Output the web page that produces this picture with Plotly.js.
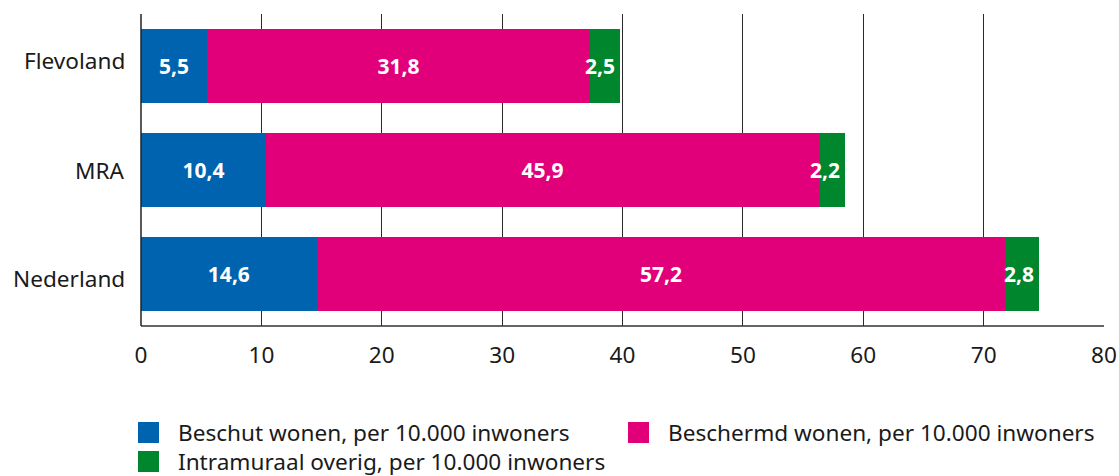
<!DOCTYPE html>
<html>
<head>
<meta charset="utf-8">
<script src="https://cdn.plot.ly/plotly-3.0.1.min.js"></script>
<style>html,body{margin:0;padding:0;background:#fff;}#chart{width:1119px;height:476px;}</style>
</head>
<body>
<div id="chart"></div>
<script>
var categories = ["Flevoland", "MRA", "Nederland"];
var beschut = [5.5, 10.4, 14.6];
var beschermd = [31.8, 45.9, 57.2];
var intramuraal = [2.5, 2.2, 2.8];
var seriesNames = ["Beschut wonen, per 10.000 inwoners", "Beschermd wonen, per 10.000 inwoners", "Intramuraal overig, per 10.000 inwoners"];
var seriesColors = ["#0063AF", "#E2007A", "#00862D"];
var xTicks = [0, 10, 20, 30, 40, 50, 60, 70, 80];

var W = 1119, H = 476;
var M = {l: 141, r: 15, t: 14, b: 150};
var PW = W - M.l - M.r, PH = H - M.t - M.b;
function px2x(px) { return (px - M.l) / PW; }
function px2y(py) { return (H - M.b - py) / PH; }

var FONT = "Noto Sans, Open Sans, sans-serif";
var TXT = 22.6;
var labelFont = {family: FONT, size: 21, color: "#ffffff", weight: "bold"};

function barTrace(vals, i, withText) {
  var t = {
    type: "bar", orientation: "h", y: categories, x: vals, name: seriesNames[i],
    marker: {color: seriesColors[i], line: {width: 0}},
    hoverinfo: "x+name", showlegend: false
  };
  if (withText) {
    t.texttemplate = "<b>%{x:.1f}</b>";
    t.textposition = "inside";
    t.insidetextanchor = "middle";
    t.textangle = 0;
    t.constraintext = "none";
    t.insidetextfont = labelFont;
  } else {
    t.textposition = "none";
  }
  return t;
}

var data = [barTrace(beschut, 0, true), barTrace(beschermd, 1, true), barTrace(intramuraal, 2, false)];

var annotations = [];
for (var k = 0; k < categories.length; k++) {
  annotations.push({
    x: beschut[k] + beschermd[k] + intramuraal[k], y: categories[k], xref: "x", yref: "y",
    text: "<b>" + intramuraal[k].toFixed(1).replace(".", ",") + "</b>",
    showarrow: false, xanchor: "right", yanchor: "middle", xshift: -3,
    font: labelFont
  });
}

// category labels (the reference sets the first one slightly higher)
var catShift = [6, 0, -4];
for (var c = 0; c < categories.length; c++) {
  annotations.push({
    xref: "paper", yref: "y", x: px2x(127), y: categories[c],
    xanchor: "right", yanchor: "middle", showarrow: false, yshift: catShift[c],
    text: categories[c],
    font: {family: FONT, size: TXT, color: "#1a1a1a"}
  });
}

var shapes = [
  {type: "line", xref: "paper", yref: "paper", x0: 0, x1: 1, y0: 0, y1: 0, line: {color: "#333333", width: 1.5}},
  {type: "line", xref: "paper", yref: "paper", x0: 0, x1: 0, y0: 0, y1: 1, line: {color: "#222222", width: 1.5}}
];

// custom legend
var legendItems = [
  {i: 0, sx: 138, sy: 422},
  {i: 1, sx: 628, sy: 422},
  {i: 2, sx: 138, sy: 451}
];
legendItems.forEach(function (it) {
  shapes.push({
    type: "rect", xref: "paper", yref: "paper",
    x0: px2x(it.sx), x1: px2x(it.sx + 21), y0: px2y(it.sy), y1: px2y(it.sy + 21),
    fillcolor: seriesColors[it.i], line: {width: 0}
  });
  annotations.push({
    xref: "paper", yref: "paper", x: px2x(it.sx + 38), y: px2y(it.sy + 10),
    xanchor: "left", yanchor: "middle", showarrow: false,
    text: seriesNames[it.i],
    font: {family: FONT, size: TXT, color: "#1a1a1a"}
  });
});

var layout = {
  width: W, height: H,
  margin: M,
  barmode: "stack",
  bargap: 0.285,
  separators: ",.",
  paper_bgcolor: "#ffffff", plot_bgcolor: "#ffffff",
  showlegend: false,
  font: {family: FONT, size: TXT, color: "#1a1a1a"},
  xaxis: {
    range: [0, 80], tickvals: xTicks, ticktext: xTicks.map(String),
    showgrid: true, gridcolor: "#2a2a2a", gridwidth: 1,
    zeroline: false, showline: false,
    ticks: "", ticklabelstandoff: 13, fixedrange: true,
    tickfont: {family: FONT, size: TXT, color: "#1a1a1a"}
  },
  yaxis: {
    autorange: "reversed", showgrid: false, zeroline: false,
    showline: false,
    ticks: "", showticklabels: false, fixedrange: true
  },
  shapes: shapes,
  annotations: annotations
};

Plotly.newPlot("chart", data, layout, {displayModeBar: false, staticPlot: true});
</script>
</body>
</html>
